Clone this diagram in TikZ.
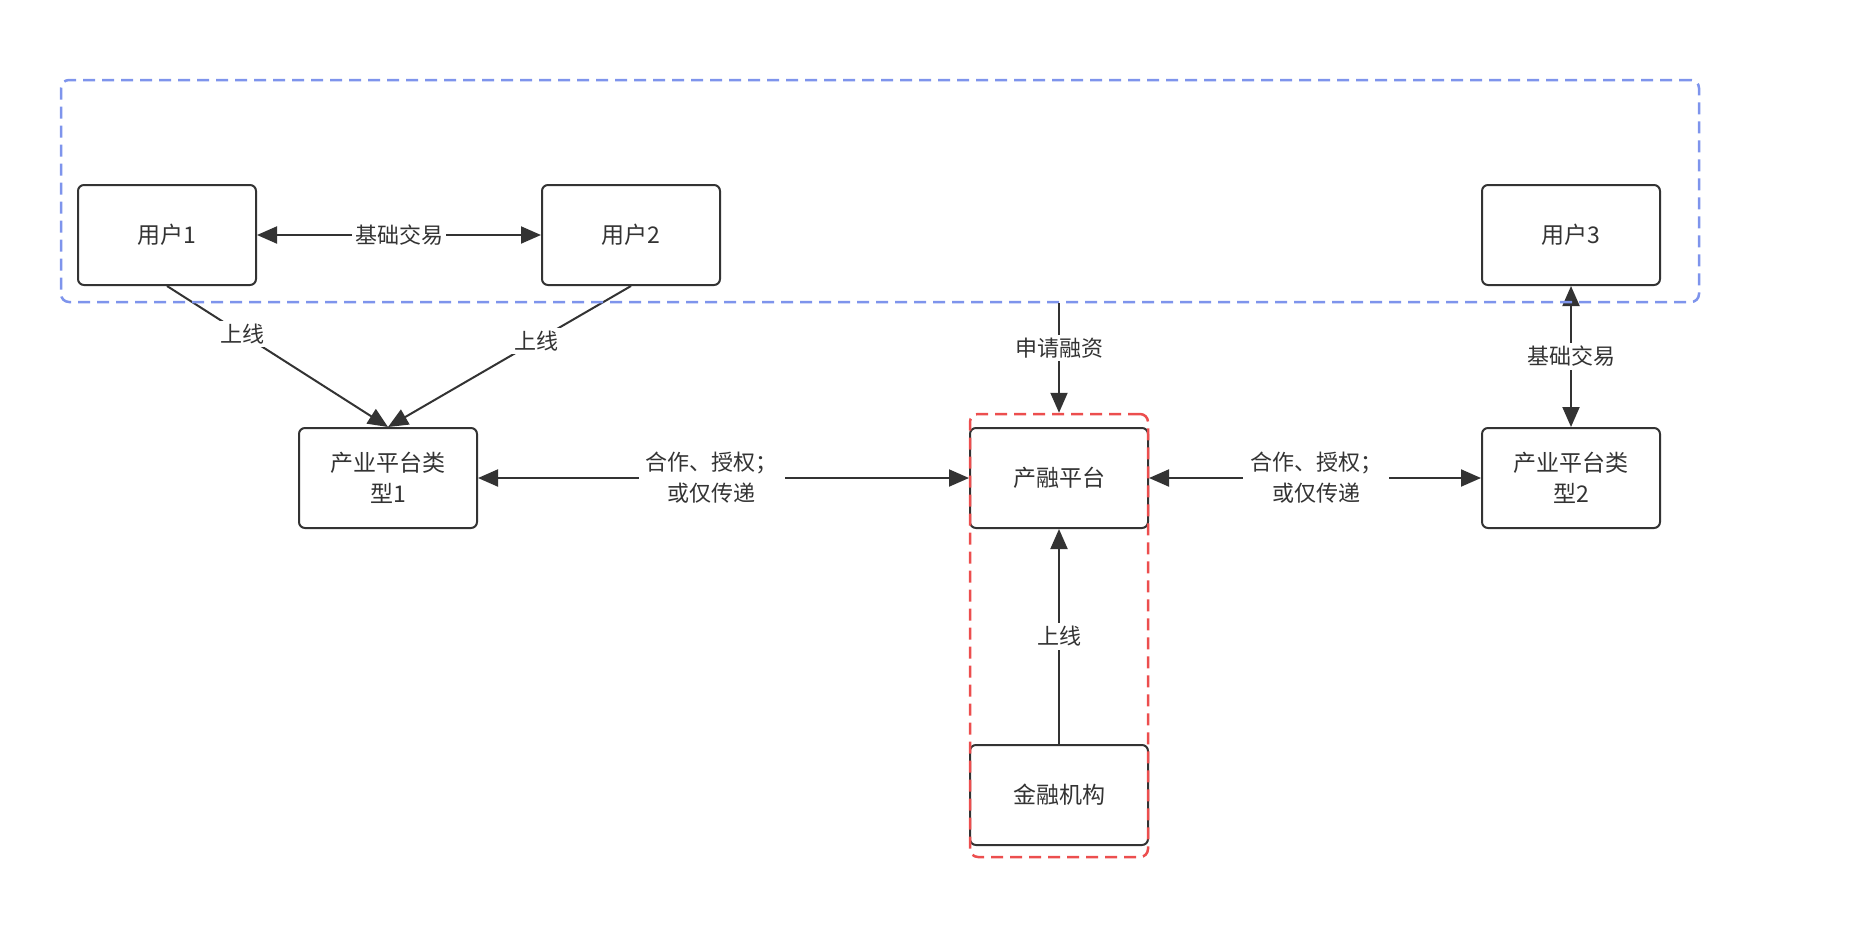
\documentclass[tikz,border=0pt]{standalone}
\usepackage{fontspec}
\setmainfont{Noto Sans CJK SC}
\usepackage{xcolor}
\usepackage{tikz}
\usetikzlibrary{arrows.meta}
\definecolor{edgegray}{HTML}{333333}
\definecolor{zoneblue}{HTML}{7E94EC}
\definecolor{zonered}{HTML}{EC4E4E}

\begin{document}
\begin{tikzpicture}[x=1pt, y=-1pt,
    box/.style={rectangle, draw=edgegray, line width=2pt, rounded corners=6pt,
        minimum width=178pt, minimum height=100pt, align=center,
        text=edgegray, font=\fontsize{23}{31}\selectfont},
    link/.style={draw=edgegray, line width=2pt, -{Triangle[length=20pt,width=17pt]}},
    twoway/.style={link, {Triangle[length=20pt,width=17pt]}-{Triangle[length=20pt,width=17pt]}},
    tag/.style={fill=white, inner sep=3pt, align=center, text=edgegray,
        font=\fontsize{22}{31}\selectfont},
    zone/.style={rectangle, line width=2.5pt, dash pattern=on 12pt off 7pt, rounded corners=8pt}]
            \useasboundingbox (0,0) rectangle (1849,948);

            % Nodes
            \node[box] (u1) at (167,235) {用户1};
            \node[box] (u2) at (631,235) {用户2};
            \node[box] (u3) at (1571,235) {用户3};
            \node[box] (ind1) at (388,478) {产业平台类\\型1};
            \node[box] (hub) at (1059,478) {产融平台};
            \node[box] (ind2) at (1571,478) {产业平台类\\型2};
            \node[box] (bank) at (1059,795) {金融机构};

            % Edges
            \draw[twoway] (u1) -- (u2) node[tag, midway] {基础交易};
            \draw[link] (u1.south) -- (ind1.north) node[tag, pos=0.34] {上线};
            \draw[link] (u2.south) -- (ind1.north) node[tag, pos=0.39] {上线};
            \draw[twoway] (ind1) -- (hub) node[tag, pos=0.476, inner xsep=7pt] {合作、授权；\\或仅传递};
            \draw[twoway] (hub) -- (ind2) node[tag, pos=0.503, inner xsep=7pt] {合作、授权；\\或仅传递};
            \draw[twoway] (u3) -- (ind2) node[tag, midway] {基础交易};
            \draw[link] (bank) -- (hub) node[tag, midway] {上线};

            % Zones
            \node[zone, draw=zoneblue, minimum width=1638pt, minimum height=222pt] (userzone) at (880,191) {};
            \node[zone, draw=zonered, minimum width=178pt, minimum height=443pt] (finzone) at (1059,635.5) {};

            \draw[link] (userzone.south -| hub.north) -- (finzone.north) node[tag, pos=0.41] {申请融资};
        \end{tikzpicture}
\end{document}
